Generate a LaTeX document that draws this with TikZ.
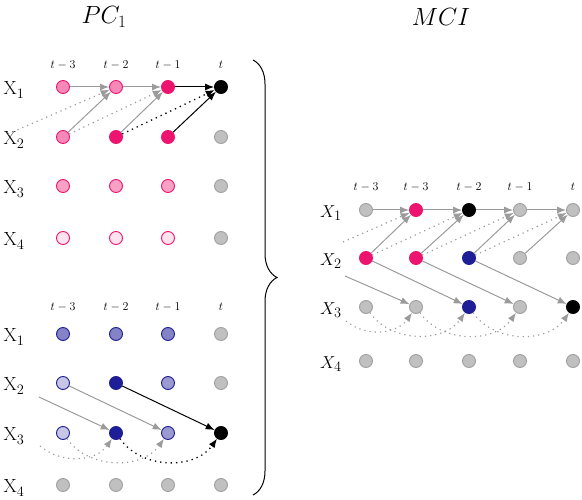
\documentclass[tikz,border=0pt]{standalone}
\usetikzlibrary{arrows.meta,decorations.pathreplacing}

\definecolor{pinkc}{RGB}{237,20,111}
\definecolor{bluec}{RGB}{30,30,150}
\definecolor{greyfill}{RGB}{192,192,192}
\definecolor{greyline}{RGB}{160,160,160}
\definecolor{greyarrow}{RGB}{155,155,155}

\tikzset{
  dot/.style={circle, draw=greyline, fill=greyfill, minimum size=13pt, inner sep=0pt, line width=0.9pt},
  pk/.style={dot, draw=pinkc, fill=pinkc!#1},
  bl/.style={dot, draw=bluec, fill=bluec!#1},
  blk/.style={dot, draw=black, fill=black},
  lag/.style={font=\fontsize{13}{15}\selectfont},
  var/.style={font=\fontsize{19}{22}\selectfont},
  ttl/.style={font=\fontsize{23}{27}\selectfont},
  gr/.style={-{Latex[length=9pt,width=7pt]}, draw=greyarrow, line width=1pt},
  bk/.style={-{Latex[length=9pt,width=7pt]}, draw=black, line width=1pt},
  gdot/.style={gr, line width=1.2pt, dash pattern=on 1.2pt off 4pt},
  bdot/.style={bk, line width=1.3pt, dash pattern=on 1.3pt off 4pt},
}

\begin{document}
\begin{tikzpicture}[x=1pt,y=-1pt]
      \useasboundingbox (0,0) rectangle (582,500);
      % titles
      \node[ttl] (pctitle) at (104,17) {$PC_1$};
      \node[ttl] (mcititle) at (441,17) {$MCI$};
      % PC_1, upper panel
      \draw
        (63,65) node[lag] (ut0){$t-3$}
        (116,65) node[lag] (ut1){$t-2$}
        (168,65) node[lag] (ut2){$t-1$}
        (221,65) node[lag] (ut3){$t$}
        (14,90) node[var] (ux1){X$_1$}
        (14,140) node[var] (ux2){X$_2$}
        (14,189) node[var] (ux3){X$_3$}
        (14,241) node[var] (ux4){X$_4$}
        (63,87) node[pk=50] (u10){}
        (116,87) node[pk=50] (u11){}
        (168,87) node[pk=100] (u12){}
        (221,87) node[blk] (u13){}
        (63,137) node[pk=50] (u20){}
        (116,137) node[pk=100] (u21){}
        (168,137) node[pk=100] (u22){}
        (221,137) node[dot] (u23){}
        (63,186) node[pk=40] (u30){}
        (116,186) node[pk=40] (u31){}
        (168,186) node[pk=40] (u32){}
        (221,186) node[dot] (u33){}
        (63,238) node[pk=12] (u40){}
        (116,238) node[pk=12] (u41){}
        (168,238) node[pk=12] (u42){}
        (221,238) node[dot] (u43){};
      \coordinate (u2x) at (8,134);
      \begin{scope}[gr]
        \draw (u10) to (u11);
        \draw (u11) to (u12);
        \draw (u20) to (u11);
        \draw (u21) to (u12);
      \end{scope}
      \begin{scope}[gdot]
        \draw (u2x) to (u11);
        \draw (u20) to (u12);
      \end{scope}
      \draw[bk] (u12) to (u13);
      \draw[bk] (u22) to (u13);
      \draw[bdot] (u21) to (u13);
      % PC_1, lower panel
      \draw
        (63,307) node[lag] (dt0){$t-3$}
        (116,307) node[lag] (dt1){$t-2$}
        (168,307) node[lag] (dt2){$t-1$}
        (221,307) node[lag] (dt3){$t$}
        (14,337) node[var] (dx1){X$_1$}
        (14,386) node[var] (dx2){X$_2$}
        (14,436) node[var] (dx3){X$_3$}
        (14,488) node[var] (dx4){X$_4$}
        (63,334) node[bl=55] (d10){}
        (116,334) node[bl=55] (d11){}
        (168,334) node[bl=55] (d12){}
        (221,334) node[dot] (d13){}
        (63,383) node[bl=25] (d20){}
        (116,383) node[bl=100] (d21){}
        (168,383) node[bl=45] (d22){}
        (221,383) node[dot] (d23){}
        (63,433) node[bl=25] (d30){}
        (116,433) node[bl=100] (d31){}
        (168,433) node[bl=45] (d32){}
        (221,433) node[blk] (d33){}
        (63,485) node[dot] (d40){}
        (116,485) node[dot] (d41){}
        (168,485) node[dot] (d42){}
        (221,485) node[dot] (d43){};
      \coordinate (d2x) at (39,397);
      \coordinate (d3x) at (40,446);
      \begin{scope}[gr]
        \draw (d2x) to (d31);
        \draw (d20) to (d32);
      \end{scope}
      \begin{scope}[gdot]
        \draw (d3x) to[out=-40,in=-125] (d31);
        \draw (d30) to[out=-55,in=-125] (d32);
      \end{scope}
      \draw[bk] (d21) to (d33);
      \draw[bdot] (d31) to[out=-55,in=-125] (d33);
      % brace
      \draw[decorate, decoration={brace, amplitude=24pt}, line width=1pt] (253,60) -- (253,495);
      % MCI
      \draw
        (366,187) node[lag] (mt0){$t-3$}
        (416,187) node[lag] (mt1){$t-3$}
        (469,187) node[lag] (mt2){$t-2$}
        (520,187) node[lag] (mt3){$t-1$}
        (573,187) node[lag] (mt4){$t$}
        (331,213) node[var] (mx1){$X_1$}
        (331,261) node[var] (mx2){$X_2$}
        (331,310) node[var] (mx3){$X_3$}
        (331,364) node[var] (mx4){$X_4$}
        (366,210) node[dot] (m10){}
        (416,210) node[pk=100] (m11){}
        (469,210) node[blk] (m12){}
        (520,210) node[dot] (m13){}
        (573,210) node[dot] (m14){}
        (366,258) node[pk=100] (m20){}
        (416,258) node[pk=100] (m21){}
        (469,258) node[bl=100] (m22){}
        (520,258) node[dot] (m23){}
        (573,258) node[dot] (m24){}
        (366,307) node[dot] (m30){}
        (416,307) node[dot] (m31){}
        (469,307) node[bl=100] (m32){}
        (520,307) node[dot] (m33){}
        (573,307) node[blk] (m34){}
        (366,361) node[dot] (m40){}
        (416,361) node[dot] (m41){}
        (469,361) node[dot] (m42){}
        (520,361) node[dot] (m43){}
        (573,361) node[dot] (m44){};
      \coordinate (m1x) at (343,242);
      \coordinate (m2x) at (345,276);
      \coordinate (m3x) at (346,321);
      \begin{scope}[gr]
        \draw (m10) to (m11);
        \draw (m11) to (m12);
        \draw (m12) to (m13);
        \draw (m13) to (m14);
        \draw (m20) to (m11);
        \draw (m21) to (m12);
        \draw (m22) to (m13);
        \draw (m23) to (m14);
        \draw (m2x) to (m31);
        \draw (m20) to (m32);
        \draw (m21) to (m33);
        \draw (m22) to (m34);
      \end{scope}
      \begin{scope}[gdot]
        \draw (m1x) to (m11);
        \draw (m20) to (m12);
        \draw (m21) to (m13);
        \draw (m22) to (m14);
        \draw (m3x) to[out=-40,in=-125] (m31);
        \draw (m30) to[out=-55,in=-125] (m32);
        \draw (m31) to[out=-55,in=-125] (m33);
        \draw (m32) to[out=-55,in=-125] (m34);
      \end{scope}
    \end{tikzpicture}
\end{document}
